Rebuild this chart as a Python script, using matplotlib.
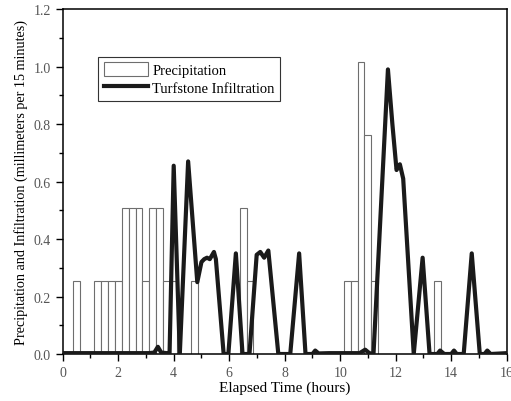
import matplotlib
matplotlib.use("Agg")
import matplotlib.pyplot as plt
from matplotlib.ticker import MultipleLocator

# precipitation, 15-minute totals (bar centres in hours)
precip_time = [0.5, 1.25, 1.5, 1.75, 2.0, 2.25, 2.5, 2.75, 3.0, 3.25, 3.5, 3.75, 4.0,
               4.75, 6.5, 6.75, 10.25, 10.5, 10.75, 11.0, 11.25, 13.5]
precip_mm = [0.254, 0.254, 0.254, 0.254, 0.254, 0.508, 0.508, 0.508, 0.254, 0.508, 0.508,
             0.254, 0.254, 0.254, 0.508, 0.254, 0.254, 0.254, 1.016, 0.762, 0.254, 0.254]

# turfstone infiltration trace
infil_time = [0.0, 3.1, 3.3, 3.43, 3.55, 3.75, 3.85, 4.0, 4.22, 4.52, 4.85, 5.0, 5.1, 5.2,
              5.3, 5.45, 5.52, 5.8, 5.97, 6.24, 6.48, 6.73, 6.99, 7.12, 7.26, 7.41, 7.77,
              8.2, 8.52, 8.75, 9.0, 9.1, 9.22, 9.6, 10.7, 10.9, 11.05, 11.2, 11.72, 11.88,
              12.03, 12.15, 12.27, 12.65, 12.97, 13.22, 13.5, 13.6, 13.75, 14.0, 14.1, 14.2,
              14.45, 14.74, 15.03, 15.2, 15.3, 15.42, 16.0]
infil_mm = [0.003, 0.003, 0.005, 0.025, 0.005, 0.003, 0.0, 0.655, 0.0, 0.67, 0.25, 0.32,
            0.33, 0.335, 0.33, 0.355, 0.33, 0.0, 0.0, 0.35, 0.0, 0.0, 0.345, 0.355, 0.335,
            0.36, 0.0, 0.0, 0.35, 0.0, 0.0, 0.012, 0.002, 0.003, 0.003, 0.015, 0.003, 0.0,
            0.99, 0.8, 0.64, 0.66, 0.61, 0.0, 0.335, 0.0, 0.0, 0.012, 0.0, 0.0, 0.012, 0.0,
            0.0, 0.35, 0.0, 0.0, 0.012, 0.0, 0.003]

plt.rcParams["font.family"] = ["Liberation Serif", "DejaVu Serif"]

fig = plt.figure(figsize=(5.11, 4.02), dpi=100)
ax = fig.add_axes([0.1227, 0.1169, 0.8689, 0.8581])

bars = ax.bar(precip_time, precip_mm, width=0.25, facecolor="white", edgecolor="#6e6e6e",
              linewidth=0.8, label="Precipitation", zorder=2)
line, = ax.plot(infil_time, infil_mm, color="#1a1a1a", linewidth=3.0,
                solid_joinstyle="round", label="Turfstone Infiltration", zorder=3)

ax.set_xlim(0, 16)
ax.set_ylim(0, 1.2)
ax.xaxis.set_major_locator(MultipleLocator(2))
ax.xaxis.set_minor_locator(MultipleLocator(1))
ax.yaxis.set_major_locator(MultipleLocator(0.2))
ax.yaxis.set_minor_locator(MultipleLocator(0.1))
ax.yaxis.set_major_formatter(plt.FormatStrFormatter("%.1f"))
ax.tick_params(which="major", direction="out", length=5, width=1.0, labelsize=10,
               labelcolor="#555555")
ax.tick_params(which="minor", direction="out", length=3, width=1.0)
for spine in ax.spines.values():
    spine.set_linewidth(1.1)

ax.set_xlabel("Elapsed Time (hours)", fontsize=11, labelpad=1)
ax.set_ylabel("Precipitation and Infiltration (millimeters per 15 minutes)", fontsize=10.2,
              labelpad=4)

leg = ax.legend([bars, line], ["Precipitation", "Turfstone Infiltration"],
                loc="upper left", bbox_to_anchor=(0.08, 0.862), fontsize=10.5,
                fancybox=False, edgecolor="#333333", framealpha=1, borderpad=0.4,
                handlelength=3.0, handleheight=1.0, handletextpad=0.3, labelspacing=0.25,
                borderaxespad=0)
leg.get_frame().set_linewidth(0.8)

fig.savefig("out.png", dpi=100)
